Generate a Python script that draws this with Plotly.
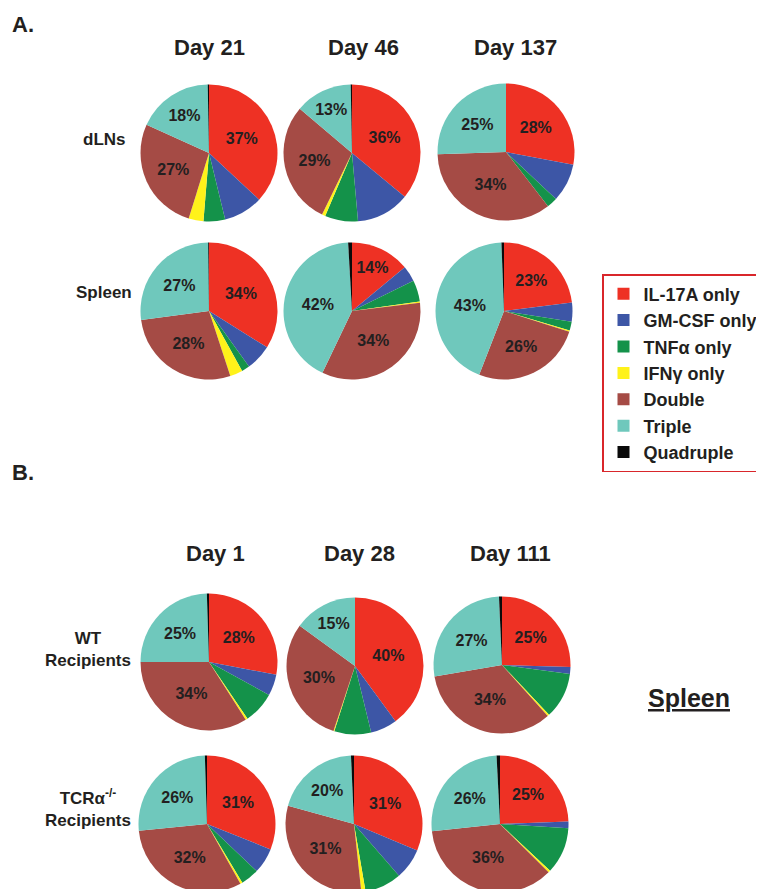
import plotly.graph_objects as go

categories = ["IL-17A only", "GM-CSF only", "TNFα only", "IFNγ only", "Double", "Triple", "Quadruple"]
colors = ["#EE3124", "#3D56A6", "#14924A", "#FFF21A", "#A54B45", "#6FC8BC", "#0A0A0A"]

# Section A (dLNs / Spleen), Day 21, 46, 137
dln_d21 = [37, 9.3, 5.1, 3.5, 27, 18, 0.3]
dln_d46 = [36, 12.6, 7.8, 0.8, 29, 13.5, 0.3]
dln_d137 = [28, 9, 2.5, 0, 35, 25.5, 0]
spl_d21 = [34, 6.2, 1.9, 3, 28, 27, 0.2]
spl_d46 = [14, 3.7, 5.1, 0.3, 34, 42, 0.9]
spl_d137 = [23, 4.5, 2.1, 0.3, 26, 43.5, 0.6]
# Section B (WT / TCRa-/- recipients), Day 1, 28, 111
wt_d1 = [28, 5, 7.5, 0.5, 34, 24.5, 0.5]
wt_d28 = [40, 6.3, 8.7, 0.2, 30, 15, 0]
wt_d111 = [25.5, 1.6, 10.9, 0.4, 34, 27, 0.7]
tcr_d1 = [31, 6, 4.3, 0.5, 31.5, 26, 0.5]
tcr_d28 = [31.3, 7.3, 8.7, 1, 31, 20, 0.7]
tcr_d111 = [24.5, 1.6, 11, 0.5, 36, 26, 0.8]

# printed percentage labels (red, brown, teal slices)
lab_dln_d21 = ["37%", "", "", "", "27%", "18%", ""]
lab_dln_d46 = ["36%", "", "", "", "29%", "13%", ""]
lab_dln_d137 = ["28%", "", "", "", "34%", "25%", ""]
lab_spl_d21 = ["34%", "", "", "", "28%", "27%", ""]
lab_spl_d46 = ["14%", "", "", "", "34%", "42%", ""]
lab_spl_d137 = ["23%", "", "", "", "26%", "43%", ""]
lab_wt_d1 = ["28%", "", "", "", "34%", "25%", ""]
lab_wt_d28 = ["40%", "", "", "", "30%", "15%", ""]
lab_wt_d111 = ["25%", "", "", "", "34%", "27%", ""]
lab_tcr_d1 = ["31%", "", "", "", "32%", "26%", ""]
lab_tcr_d28 = ["31%", "", "", "", "31%", "20%", ""]
lab_tcr_d111 = ["25%", "", "", "", "36%", "26%", ""]

days_a = ["Day 21", "Day 46", "Day 137"]
days_b = ["Day 1", "Day 28", "Day 111"]

W, H = 764, 889
R = 68.5

panels = [
    (dln_d21, lab_dln_d21, 201, 145), (dln_d46, lab_dln_d46, 344, 145), (dln_d137, lab_dln_d137, 498, 144),
    (spl_d21, lab_spl_d21, 201, 303), (spl_d46, lab_spl_d46, 344, 303), (spl_d137, lab_spl_d137, 496, 303),
    (wt_d1, lab_wt_d1, 201, 654), (wt_d28, lab_wt_d28, 347, 658), (wt_d111, lab_wt_d111, 494, 657),
    (tcr_d1, lab_tcr_d1, 199, 816), (tcr_d28, lab_tcr_d28, 346, 816), (tcr_d111, lab_tcr_d111, 492, 816),
]

fig = go.Figure()
for i, (vals, labs, cx, cy) in enumerate(panels):
    fig.add_trace(go.Pie(
        labels=categories, values=vals, text=labs, textinfo="text",
        sort=False, direction="clockwise", rotation=0,
        marker=dict(colors=colors, line=dict(width=0)),
        textposition="inside", insidetextorientation="horizontal",
        textfont=dict(family="Arial", size=16, color="#231F20", weight="bold"),
        domain=dict(x=[(cx - R) / W, (cx + R) / W], y=[1 - (cy + R) / H, 1 - (cy - R) / H]),
        showlegend=(i == 0), hoverinfo="label+percent",
    ))

ann = []
def txt(x, y, s, size, xanchor="center"):
    ann.append(dict(x=x / W, y=1 - y / H, xref="paper", yref="paper", text=s, showarrow=False,
                    xanchor=xanchor, yanchor="middle",
                    font=dict(family="Arial", size=size, color="#231F20", weight="bold")))

txt(2, 16, "A.", 22, "left")
txt(2, 464, "B.", 22, "left")
for d, x in zip(days_a, [201, 355, 507]):
    txt(x, 40, d, 22)
for d, x in zip(days_b, [207, 351, 502]):
    txt(x, 545, d, 22)
txt(96, 131, "dLNs", 17)
txt(96, 284, "Spleen", 17)
txt(80, 641, "WT<br>Recipients", 17)
txt(80, 800, "TCRα<sup>-/-</sup><br>Recipients", 17)
txt(681, 690, "<u>Spleen</u>", 25)

fig.update_layout(
    width=W, height=H, margin=dict(l=0, r=0, t=0, b=0),
    paper_bgcolor="white", plot_bgcolor="white",
    annotations=ann,
    legend=dict(x=594 / W, y=1 - 266 / H, xanchor="left", yanchor="top",
                bordercolor="#D9262B", borderwidth=1.5, bgcolor="white",
                font=dict(family="Arial", size=18, color="#231F20", weight="bold"),
                traceorder="normal"),
)
fig.write_html("out.html")
